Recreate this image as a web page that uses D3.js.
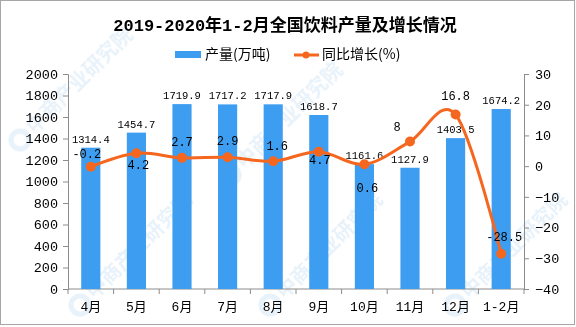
<!DOCTYPE html>
<html>
<head>
<meta charset="utf-8">
<script src="https://cdn.jsdelivr.net/npm/d3@7"></script>
<style>
  body { margin: 0; background: #fff; }
  text { font-family: "Liberation Mono", "Noto Sans CJK SC", monospace; }
  .cjk { font-family: "Noto Sans CJK SC", sans-serif; }
</style>
</head>
<body>
<div id="container"></div>
<script>
/* DATA */
const months = ["4月", "5月", "6月", "7月", "8月", "9月", "10月", "11月", "12月", "1-2月"];
const output = [1314.4, 1454.7, 1719.9, 1717.2, 1717.9, 1618.7, 1161.6, 1127.9, 1403.5, 1674.2];
const growth = [-0.2, 4.2, 2.7, 2.9, 1.6, 4.7, 0.6, 8, 16.8, -28.5];
const leftTicks = [0, 200, 400, 600, 800, 1000, 1200, 1400, 1600, 1800, 2000];
const rightTicks = [-40, -30, -20, -10, 0, 10, 20, 30];

/* CONSTANTS */
const width = 576, height = 327,
  margin = { top: 74, bottom: 38, left: 68, right: 52 };
const barColor = "#3d9df0", lineColor = "#f5661f", axisColor = "#8c8c8c";

// growth label placement: dx, dy relative to the point
const growthOffsets = [[-4, -9], [2, 16], [0, -12], [0, -12], [4, -11], [1, 12], [3, 28], [-13, -11], [0, -15], [3, -13]];

const svg = d3.select("#container")
  .append("svg")
  .attr("width", width)
  .attr("height", height);

svg.append("rect")
  .attr("x", 0.5).attr("y", 0.5)
  .attr("width", width - 2).attr("height", height - 3)
  .attr("fill", "#fff")
  .attr("stroke", "#a6a6a6");

/* WATERMARK */
const wm = svg.append("g").attr("opacity", 0.12);
[[80, 305], [270, 305], [455, 305], [230, 175], [20, 140]].forEach(([x, y]) => {
  const g = wm.append("g").attr("transform", `translate(${x},${y}) rotate(-45)`);
  g.append("circle").attr("cx", 0).attr("cy", 0).attr("r", 9)
    .attr("fill", "none").attr("stroke", "#3d8fd6").attr("stroke-width", 5);
  g.append("text").attr("class", "cjk").attr("x", 14).attr("y", 7)
    .attr("font-size", 20).attr("font-weight", "bold").attr("fill", "#3d8fd6")
    .text("中商产业研究院");
});

/* SCALES */
const xScale = d3.scaleBand()
  .domain(months)
  .range([margin.left, width - margin.right])
  .paddingInner(0.58)
  .paddingOuter(0.29);

const xBand = d3.scaleBand()
  .domain(months)
  .range([margin.left, width - margin.right]);

const yScale = d3.scaleLinear()
  .domain([0, 2000])
  .range([height - margin.bottom, margin.top]);

const y2Scale = d3.scaleLinear()
  .domain([-40, 30])
  .range([height - margin.bottom, margin.top]);

/* AXES */
const yAxis = d3.axisLeft(yScale).tickValues(leftTicks).tickFormat(d3.format("d")).tickSize(5).tickPadding(5);
const y2Axis = d3.axisRight(y2Scale).tickValues(rightTicks).tickFormat(d3.format("d")).tickSize(5).tickPadding(6);

const yAxisGroup = svg.append("g")
  .attr("transform", `translate(${margin.left},0)`)
  .call(yAxis);
const y2AxisGroup = svg.append("g")
  .attr("transform", `translate(${width - margin.right},0)`)
  .call(y2Axis);

// x axis: ticks sit between the categories
const xAxisGroup = svg.append("g")
  .attr("transform", `translate(0,${height - margin.bottom})`);
xAxisGroup.append("line")
  .attr("x1", margin.left).attr("x2", width - margin.right)
  .attr("stroke", axisColor);
xAxisGroup.selectAll(".xtick")
  .data(months.concat(["end"]))
  .join("line")
  .attr("class", "xtick")
  .attr("x1", (d, i) => i < months.length ? xBand(d) : xBand.range()[1])
  .attr("x2", (d, i) => i < months.length ? xBand(d) : xBand.range()[1])
  .attr("y1", 0).attr("y2", 5)
  .attr("stroke", axisColor);
xAxisGroup.selectAll(".xlabel")
  .data(months)
  .join("text")
  .attr("class", "xlabel")
  .attr("x", d => xBand(d) + xBand.bandwidth() / 2)
  .attr("y", 22)
  .attr("text-anchor", "middle")
  .attr("font-size", 13)
  .attr("fill", "#000")
  .text(d => d);

[yAxisGroup, y2AxisGroup].forEach(g => {
  g.select(".domain").attr("stroke", axisColor);
  g.selectAll(".tick line").attr("stroke", axisColor);
  g.selectAll(".tick text").attr("font-size", 13.5).attr("fill", "#000")
    .attr("font-family", "'Liberation Sans', sans-serif");
});
xAxisGroup.selectAll("text").attr("font-family", "'Liberation Sans', 'Noto Sans CJK SC', sans-serif");

/* BARS */
svg.selectAll(".bar")
  .data(output)
  .join("rect")
  .attr("class", "bar")
  .attr("x", (d, i) => xScale(months[i]))
  .attr("y", d => yScale(d))
  .attr("width", xScale.bandwidth())
  .attr("height", d => yScale(0) - yScale(d))
  .attr("fill", barColor);

svg.selectAll(".barlabel")
  .data(output)
  .join("text")
  .attr("class", "barlabel")
  .attr("x", (d, i) => xScale(months[i]) + xScale.bandwidth() / 2)
  .attr("y", d => yScale(d) - 5)
  .attr("text-anchor", "middle")
  .attr("font-size", 10.5)
  .attr("fill", "#000")
  .text(d => d.toFixed(1));

/* LINE */
const cx = i => xBand(months[i]) + xBand.bandwidth() / 2;
const line = d3.line()
  .x((d, i) => cx(i))
  .y(d => y2Scale(d))
  .curve(d3.curveCardinal.tension(0));

svg.append("path")
  .datum(growth)
  .attr("d", line)
  .attr("fill", "none")
  .attr("stroke", lineColor)
  .attr("stroke-width", 3);

svg.selectAll(".dot")
  .data(growth)
  .join("circle")
  .attr("class", "dot")
  .attr("cx", (d, i) => cx(i))
  .attr("cy", d => y2Scale(d))
  .attr("r", 5)
  .attr("fill", lineColor);

svg.selectAll(".growthlabel")
  .data(growth)
  .join("text")
  .attr("class", "growthlabel")
  .attr("x", (d, i) => cx(i) + growthOffsets[i][0])
  .attr("y", (d, i) => y2Scale(d) + growthOffsets[i][1])
  .attr("text-anchor", "middle")
  .attr("font-size", 12)
  .attr("fill", "#000")
  .text(d => d);

/* TITLE & LEGEND */
svg.append("text")
  .attr("x", 285)
  .attr("y", 31)
  .attr("text-anchor", "middle")
  .attr("font-family", "'Liberation Serif', 'Noto Sans CJK SC', serif")
  .attr("font-size", 17)
  .attr("font-weight", "bold")
  .attr("fill", "#000")
  .text("2019-2020年1-2月全国饮料产量及增长情况");

const legend = svg.append("g").attr("transform", "translate(0,54)");
legend.append("rect")
  .attr("x", 175).attr("y", -3).attr("width", 26).attr("height", 7)
  .attr("fill", barColor);
legend.append("text")
  .attr("class", "cjk")
  .attr("x", 205).attr("y", 5)
  .attr("font-size", 14).attr("fill", "#000")
  .text("产量(万吨)");
legend.append("line")
  .attr("x1", 294).attr("x2", 319).attr("y1", 1).attr("y2", 1)
  .attr("stroke", lineColor).attr("stroke-width", 3);
legend.append("circle")
  .attr("cx", 306).attr("cy", 1).attr("r", 3.5)
  .attr("fill", lineColor);
legend.append("text")
  .attr("class", "cjk")
  .attr("x", 322).attr("y", 5)
  .attr("font-size", 14).attr("fill", "#000")
  .text("同比增长(%)");
</script>
</body>
</html>
